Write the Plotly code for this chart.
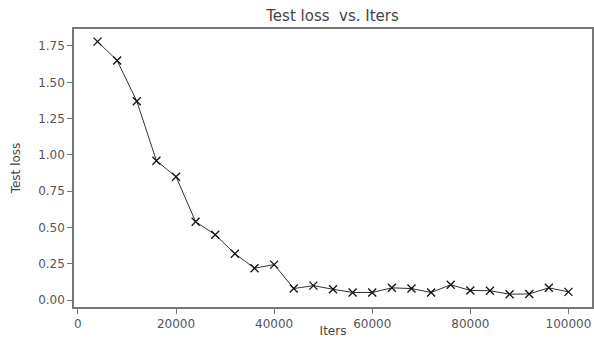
import plotly.graph_objects as go

iters = [4000, 8000, 12000, 16000, 20000, 24000, 28000, 32000, 36000, 40000,
         44000, 48000, 52000, 56000, 60000, 64000, 68000, 72000, 76000, 80000,
         84000, 88000, 92000, 96000, 100000]
test_loss = [1.78, 1.65, 1.37, 0.96, 0.85, 0.54, 0.45, 0.32, 0.22, 0.245,
             0.08, 0.10, 0.075, 0.053, 0.053, 0.085, 0.08, 0.053, 0.106, 0.067,
             0.065, 0.041, 0.043, 0.085, 0.057]
x_ticks = [0, 20000, 40000, 60000, 80000, 100000]
y_ticks = [0.0, 0.25, 0.5, 0.75, 1.0, 1.25, 1.5, 1.75]

fig = go.Figure()
fig.add_trace(go.Scatter(
    x=iters, y=test_loss, mode="lines+markers",
    line=dict(color="#333333", width=1),
    marker=dict(symbol="x-thin", size=8, line=dict(color="#111111", width=1.3)),
))

axis_common = dict(
    showline=True, linecolor="#777777", linewidth=1.5, mirror=True,
    ticks="outside", ticklen=5, tickcolor="#777777", tickwidth=1.2,
    showgrid=False, zeroline=False, automargin=False,
    tickfont=dict(family="DejaVu Sans", size=12, color="#555555"),
)

fig.update_layout(
    width=594, height=338,
    margin=dict(l=74, r=2, t=29, b=31),
    paper_bgcolor="white", plot_bgcolor="white",
    showlegend=False,
    title=dict(text="Test loss  vs. Iters", x=0.5598, xanchor="center", y=0.952, yanchor="middle",
               font=dict(family="DejaVu Sans", size=15, color="#444444")),
    xaxis=dict(range=[-800, 104800], tickvals=x_ticks, ticktext=[str(v) for v in x_ticks],
               title=dict(text="Iters",
                          font=dict(family="DejaVu Sans", size=12, color="#444444")),
               **axis_common),
    yaxis=dict(range=[-0.047, 1.867], tickvals=y_ticks, ticktext=[f"{v:.2f}" for v in y_ticks],
               title=dict(text="Test loss",
                          font=dict(family="Liberation Sans Narrow, DejaVu Sans", size=12, color="#444444")),
               **axis_common),
)

fig.write_html("out.html")
